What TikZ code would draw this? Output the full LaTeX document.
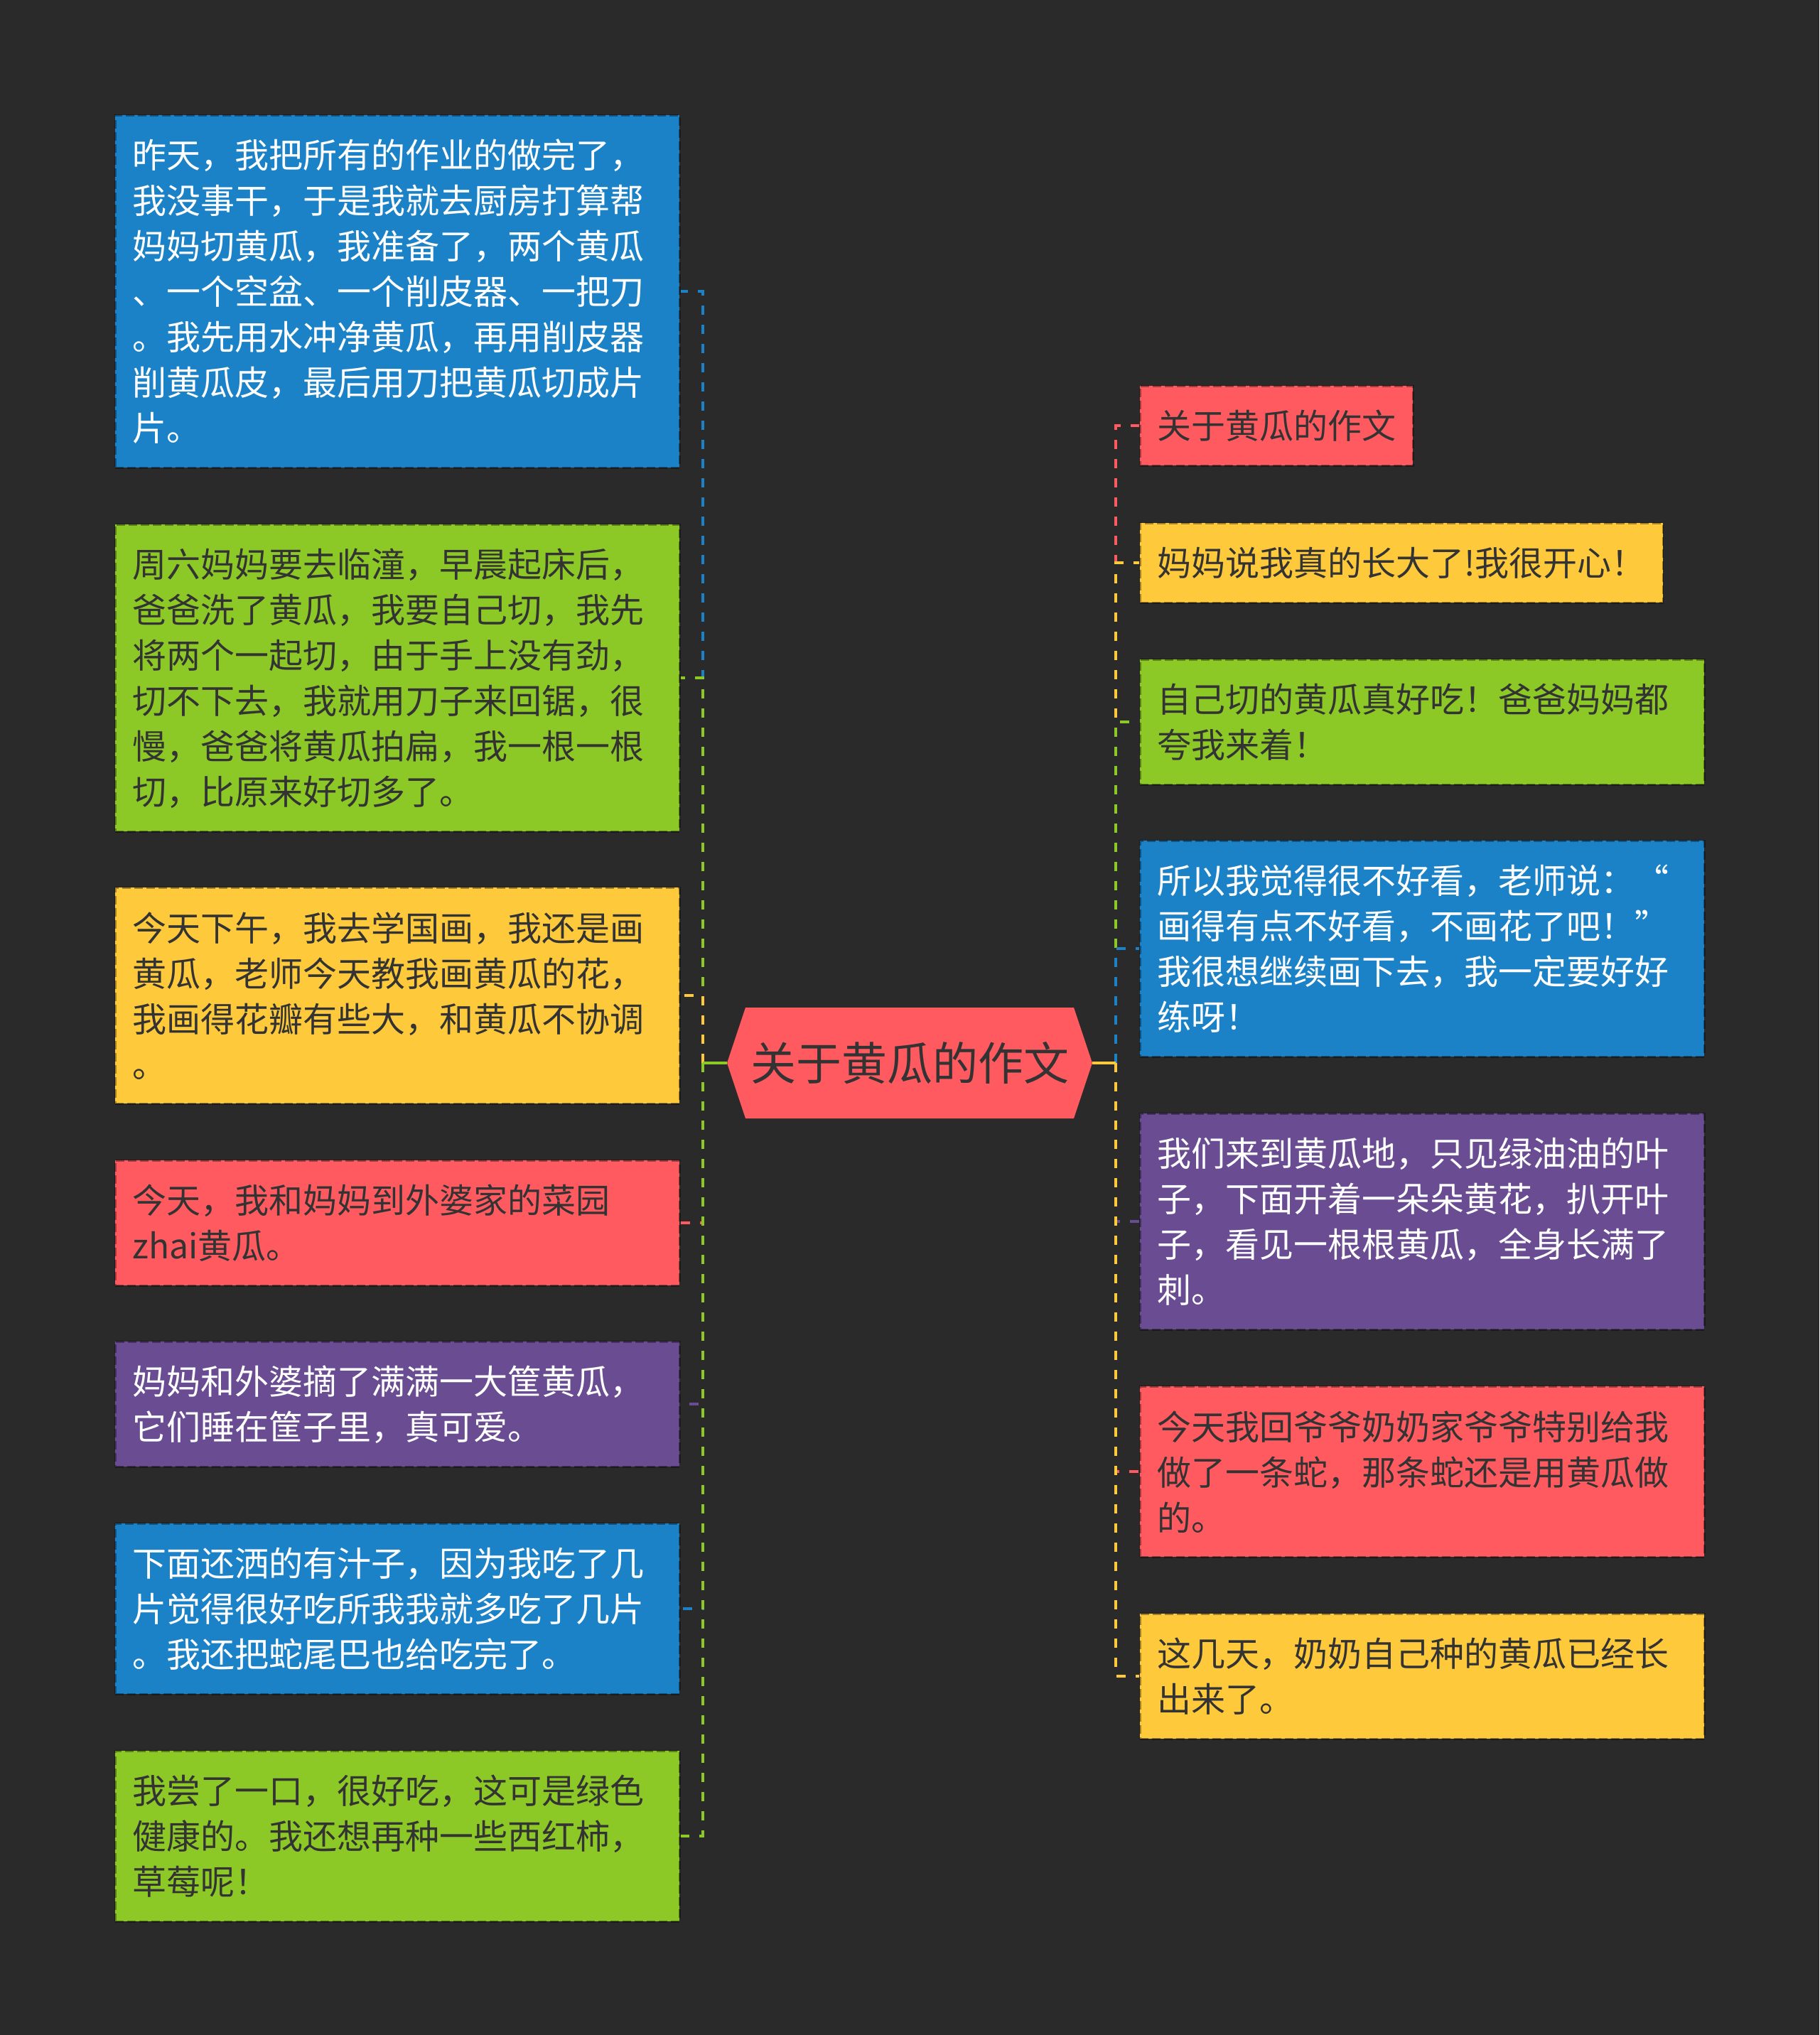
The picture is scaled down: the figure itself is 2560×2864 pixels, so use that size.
\documentclass[tikz,border=0pt]{standalone}
\usepackage{fontspec}
\newfontfamily\cjk{Noto Sans CJK SC}
\definecolor{bg}{HTML}{2A2A2A}
\definecolor{cblue}{HTML}{1B82C7}
\definecolor{cgreen}{HTML}{8CC926}
\definecolor{cyellow}{HTML}{FFC93C}
\definecolor{cred}{HTML}{FF5A5F}
\definecolor{cpurple}{HTML}{6A4C93}
\definecolor{dk}{HTML}{333333}
\begin{document}
\begin{tikzpicture}[x=1pt,y=-1pt,
  bx/.style={anchor=north west, fill=#1, draw=black, draw opacity=0.35,
    line width=2.5pt, dash pattern=on 12pt off 5pt,
    inner xsep=24pt, inner ysep=0pt, align=left,
    font=\cjk\fontsize{48}{64}\selectfont},
  wide/.style={text width=746pt},
  h1/.style={minimum height=112pt},
  h2/.style={minimum height=176pt},
  h3/.style={minimum height=240pt},
  h4/.style={minimum height=304pt},
  h6/.style={minimum height=432pt},
  h7/.style={minimum height=496pt},
  lt/.style={text=white},
  dt/.style={text=dk},
  conn/.style={line width=4pt, dash pattern=on 13pt off 14pt},
  stub/.style={line width=4pt}]
\useasboundingbox[fill=bg] (0,0) rectangle (2560,2864);

% central node
\fill[cred] (1049,1418) -- (1511,1418) -- (1537,1496) -- (1511,1574)
  -- (1049,1574) -- (1023,1496) -- cycle;
\node[minimum width=514pt, minimum height=156pt, inner sep=0pt, text=dk,
  font=\cjk\fontsize{64}{76}\selectfont] (c) at (1280,1496) {关于黄瓜的作文};

% left boxes
\node[bx=cblue, wide, h7, lt] (L1) at (161,161) {昨天，我把所有的作业的做完了，\\我没事干，于是我就去厨房打算帮\\妈妈切黄瓜，我准备了，两个黄瓜\\、一个空盆、一个削皮器、一把刀\\。我先用水冲净黄瓜，再用削皮器\\削黄瓜皮，最后用刀把黄瓜切成片\\片。};
\node[bx=cgreen, wide, h6, dt] (L2) at (161,737) {周六妈妈要去临潼，早晨起床后，\\爸爸洗了黄瓜，我要自己切，我先\\将两个一起切，由于手上没有劲，\\切不下去，我就用刀子来回锯，很\\慢，爸爸将黄瓜拍扁，我一根一根\\切，比原来好切多了。};
\node[bx=cyellow, wide, h4, dt] (L3) at (161,1248) {今天下午，我去学国画，我还是画\\黄瓜，老师今天教我画黄瓜的花，\\我画得花瓣有些大，和黄瓜不协调\\。};
\node[bx=cred, wide, h2, dt] (L4) at (161,1632) {今天，我和妈妈到外婆家的菜园\\zhai黄瓜。};
\node[bx=cpurple, wide, h2, lt] (L5) at (161,1887) {妈妈和外婆摘了满满一大筐黄瓜，\\它们睡在筐子里，真可爱。};
\node[bx=cblue, wide, h3, lt] (L6) at (161,2143) {下面还洒的有汁子，因为我吃了几\\片觉得很好吃所我我就多吃了几片\\。我还把蛇尾巴也给吃完了。};
\node[bx=cgreen, wide, h3, dt] (L7) at (161,2463) {我尝了一口，很好吃，这可是绿色\\健康的。我还想再种一些西红柿，\\草莓呢！};

% right boxes
\node[bx=cred, h1, dt] (R1) at (1603,542) {关于黄瓜的作文};
\node[bx=cyellow, h1, dt] (R2) at (1603,735) {妈妈说我真的长大了!我很开心！};
\node[bx=cgreen, wide, h2, dt] (R3) at (1603,927) {自己切的黄瓜真好吃！爸爸妈妈都\\夸我来着！};
\node[bx=cblue, wide, h4, lt] (R4) at (1603,1182) {所以我觉得很不好看，老师说：“\\画得有点不好看，不画花了吧！”\\我很想继续画下去，我一定要好好\\练呀！};
\node[bx=cpurple, wide, h4, lt] (R5) at (1603,1566) {我们来到黄瓜地，只见绿油油的叶\\子，下面开着一朵朵黄花，扒开叶\\子，看见一根根黄瓜，全身长满了\\刺。};
\node[bx=cred, wide, h3, dt] (R6) at (1603,1950) {今天我回爷爷奶奶家爷爷特别给我\\做了一条蛇，那条蛇还是用黄瓜做\\的。};
\node[bx=cyellow, wide, h2, dt] (R7) at (1603,2270) {这几天，奶奶自己种的黄瓜已经长\\出来了。};

% spines
\coordinate (ls) at (989,1496);
\coordinate (rs) at (1570,1496);

\draw[conn, cblue]   (ls) |- (L1.east);
\draw[conn, cgreen]  (ls) |- (L2.east);
\draw[conn, cyellow] (ls) |- (L3.east);
\draw[conn, cred]    (ls) |- (L4.east);
\draw[conn, cpurple] (ls) |- (L5.east);
\draw[conn, cblue]   (ls) |- (L6.east);
\draw[conn, cgreen]  (ls) |- (L7.east);
\draw[stub, cgreen]  (c.west) -- (ls);

\draw[conn, cred]    (rs) |- (R1.west);
\draw[conn, cyellow] (rs) |- (R2.west);
\draw[conn, cgreen]  (rs) |- (R3.west);
\draw[conn, cblue]   (rs) |- (R4.west);
\draw[conn, cpurple] (rs) |- (R5.west);
\draw[conn, cred]    (rs) |- (R6.west);
\draw[conn, cyellow] (rs) |- (R7.west);
\draw[stub, cyellow] (c.east) -- (rs);
\end{tikzpicture}
\end{document}
